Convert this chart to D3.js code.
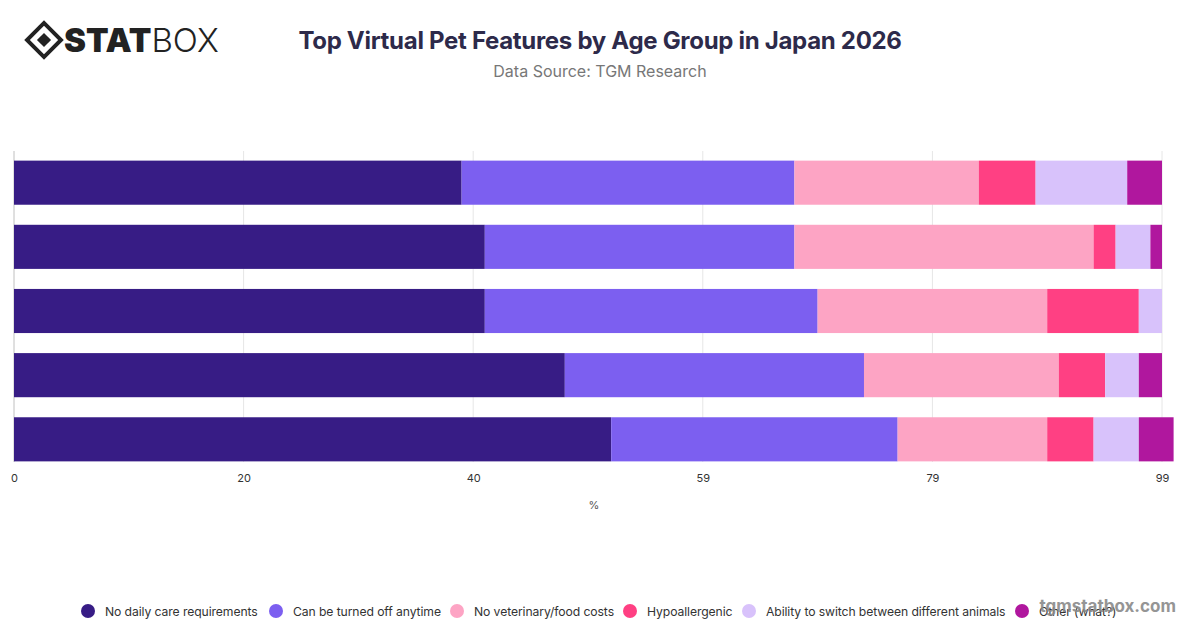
<!DOCTYPE html>
<html><head><meta charset="utf-8">
<script src="https://cdn.jsdelivr.net/npm/d3@7"></script>
<style>body{margin:0;background:#fff;font-family:Inter,"Noto Sans",sans-serif}</style>
</head><body><svg id="c" width="1200" height="628"></svg>
<script>
const categories=["Group 1","Group 2","Group 3","Group 4","Group 5"];
const seriesNames=["No daily care requirements","Can be turned off anytime","No veterinary/food costs","Hypoallergenic","Ability to switch between different animals","Other (what?)"];
const colors=["#371c85","#7c5ff0","#fda4c4","#ff4083","#d8c2fb","#b0179e"];
const noCare=[38.6,40.6,40.6,47.5,51.5];
const turnOff=[28.7,26.7,28.7,25.8,24.7];
const noVet=[15.9,25.8,19.8,16.8,12.9];
const hypo=[4.9,1.9,7.9,4.0,4.0];
const switchA=[7.9,3.0,2.0,2.9,3.9];
const other=[3.0,1.0,0,2.0,3.0];
const tickValues=[0,19.8,39.6,59.4,79.2,99];
const series=[noCare,turnOff,noVet,hypo,switchA,other];

const svg=d3.select("#c");
const x=d3.scaleLinear().domain([0,99]).range([14,1162]);
const y=d3.scaleBand().domain(categories).range([151,471]).paddingInner(0.3125).paddingOuter(0.15);
svg.append("g").selectAll("line").data(tickValues).join("line")
 .attr("x1",d=>x(d)).attr("x2",d=>x(d)).attr("y1",151).attr("y2",462)
 .attr("stroke","#e6e6e6");
svg.append("line").attr("x1",14).attr("x2",14).attr("y1",151).attr("y2",462).attr("stroke","#ccc");
categories.forEach((c,i)=>{
 let acc=0;
 series.forEach((s,k)=>{
  const v=s[i];
  svg.append("rect").attr("x",x(acc)).attr("y",y(c)).attr("width",Math.max(0,x(acc+v)-x(acc))).attr("height",y.bandwidth()).attr("fill",colors[k]);
  acc+=v;
 });
});
const ax=svg.append("g").attr("transform","translate(0,462)")
 .call(d3.axisBottom(x).tickValues(tickValues).tickFormat(d=>Math.round(d)).tickSize(0).tickPadding(12));
ax.select(".domain").remove();
ax.selectAll("text").attr("font-size",11).attr("fill","#333").attr("font-family","Inter,sans-serif");
svg.append("text").attr("x",594).attr("y",509).attr("text-anchor","middle").attr("font-size",11).attr("fill","#555").text("%");
svg.append("text").attr("x",600).attr("y",49).attr("text-anchor","middle").attr("font-size",24).attr("font-weight",700).attr("fill","#2d2a4a").attr("letter-spacing",-0.3).text("Top Virtual Pet Features by Age Group in Japan 2026");
svg.append("text").attr("x",600).attr("y",77).attr("text-anchor","middle").attr("font-size",16).attr("fill","#777").text("Data Source: TGM Research");
const lg=svg.append("g").attr("transform","translate(44,40)");
lg.append("rect").attr("x",-12).attr("y",-12).attr("width",24).attr("height",24).attr("transform","rotate(45)").attr("fill","none").attr("stroke","#222").attr("stroke-width",4);
lg.append("rect").attr("x",-5).attr("y",-5).attr("width",10).attr("height",10).attr("transform","rotate(45)").attr("fill","#222");
const lt=svg.append("text").attr("x",64).attr("y",52).attr("font-size",33).attr("fill","#222").attr("font-family","Inter,sans-serif");
lt.append("tspan").attr("font-weight",900).text("STAT");
lt.append("tspan").attr("font-weight",300).text("BOX");
const lx=[88,276,457,630,749,1022];
seriesNames.forEach((n,k)=>{
 svg.append("circle").attr("cx",lx[k]).attr("cy",611).attr("r",7).attr("fill",colors[k]);
 svg.append("text").attr("x",lx[k]+17).attr("y",615.5).attr("font-size",12.2).attr("letter-spacing",-0.1).attr("fill","#333").text(n);
});
svg.append("text").attr("x",1176).attr("y",612).attr("text-anchor","end").attr("font-size",17).attr("font-weight",700).attr("fill","#8a8a8a").attr("opacity",0.9).text("tgmstatbox.com");
</script></body></html>
